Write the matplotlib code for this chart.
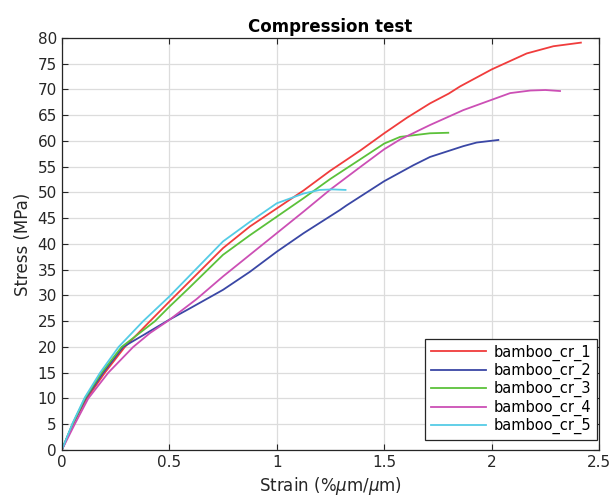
"""
Compression test - stress/strain curves for the bamboo samples
"""
import matplotlib
matplotlib.use('Agg')
import matplotlib.pyplot as plt

# Datos
strain_cr_1 = [0, 0.05, 0.11, 0.20, 0.293, 0.41, 0.5, 0.75, 0.875, 1.0, 1.125, 1.248, 1.387,
               1.5, 1.605, 1.713, 1.8, 1.853, 2.0, 2.163, 2.287, 2.415]
stress_cr_1 = [0, 4.8, 9.6, 15.0, 20.0, 25.0, 28.8, 39.2, 43.4, 46.9, 50.4, 54.2, 58.1,
               61.5, 64.5, 67.3, 69.2, 70.6, 73.9, 77.0, 78.4, 79.1]

strain_cr_2 = [0, 0.05, 0.11, 0.192, 0.285, 0.379, 0.5, 0.596, 0.75, 0.875, 1.0, 1.125,
               1.294, 1.325, 1.5, 1.636, 1.713, 1.868, 1.93, 2.031]
stress_cr_2 = [0, 5.0, 10.0, 15.0, 20.0, 22.3, 25.3, 27.5, 31.1, 34.6, 38.5, 42.1,
               46.6, 47.5, 52.2, 55.3, 56.9, 59.0, 59.7, 60.2]

strain_cr_3 = [0, 0.05, 0.107, 0.185, 0.278, 0.433, 0.5, 0.588, 0.75, 0.875, 1.0, 1.125,
               1.248, 1.387, 1.5, 1.574, 1.713, 1.798]
stress_cr_3 = [0, 5.0, 10.0, 15.0, 20.0, 25.0, 27.8, 31.3, 37.9, 41.7, 45.3, 48.9,
               52.6, 56.4, 59.5, 60.8, 61.5, 61.6]

strain_cr_4 = [0, 0.06, 0.123, 0.216, 0.332, 0.41, 0.495, 0.627, 0.75, 0.875, 1.0, 1.125,
               1.25, 1.387, 1.5, 1.574, 1.713, 1.868, 2.0, 2.086, 2.18, 2.25, 2.318]
stress_cr_4 = [0, 5.0, 10.0, 15.0, 20.0, 22.7, 25.1, 29.3, 33.7, 37.9, 42.1, 46.3,
               50.6, 54.9, 58.4, 60.3, 63.1, 66.0, 68.0, 69.3, 69.8, 69.9, 69.7]

strain_cr_5 = [0, 0.05, 0.107, 0.178, 0.264, 0.378, 0.5, 0.75, 0.875, 1.0, 1.125, 1.2,
               1.26, 1.32]
stress_cr_5 = [0, 5.2, 10.2, 15.0, 20.0, 25.0, 29.8, 40.5, 44.3, 47.9, 49.8, 50.5,
               50.6, 50.5]

labels = ['bamboo_cr_1', 'bamboo_cr_2', 'bamboo_cr_3', 'bamboo_cr_4', 'bamboo_cr_5']
colors_list = ['#F03C3C', '#3A47A5', '#5CC13A', '#CC4FB5', '#55CCE6']

series = [(strain_cr_1, stress_cr_1), (strain_cr_2, stress_cr_2), (strain_cr_3, stress_cr_3),
          (strain_cr_4, stress_cr_4), (strain_cr_5, stress_cr_5)]

fig = plt.figure(figsize=(6.12, 4.98), dpi=100)
ax = fig.add_axes([0.101, 0.0964, 0.878, 0.8273])

for (x, y), lab, col in zip(series, labels, colors_list):
    ax.plot(x, y, color=col, linewidth=1.3, label=lab)

ax.set_xlim(0, 2.5)
ax.set_ylim(0, 80)
ax.set_xticks([0, 0.5, 1, 1.5, 2, 2.5])
ax.set_xticklabels(['0', '0.5', '1', '1.5', '2', '2.5'])
ax.set_yticks(range(0, 81, 5))

ax.grid(True, color='#dcdcdc', linewidth=0.9)
ax.set_axisbelow(True)
ax.tick_params(direction='in', top=True, right=True, labelsize=11, colors='#262626',
               length=4, width=0.8)
for sp in ax.spines.values():
    sp.set_color('#262626')
    sp.set_linewidth(0.9)

ax.set_title('Compression test', fontsize=12, fontweight='bold', pad=4)
ax.set_xlabel(r'Strain (%$\mu$m/$\mu$m)', fontsize=12, color='#262626', labelpad=4)
ax.set_ylabel('Stress (MPa)', fontsize=12, color='#262626', labelpad=4)

leg = ax.legend(loc='lower right', bbox_to_anchor=(0.996, 0.024), borderaxespad=0,
                fontsize=10.5, frameon=True, fancybox=False,
                handlelength=3.8, labelspacing=0.15, borderpad=0.4, handletextpad=0.5)
leg.get_frame().set_edgecolor('#262626')
leg.get_frame().set_linewidth(0.9)
leg.get_frame().set_alpha(1)

plt.savefig('out.png', dpi=100)
plt.close()
